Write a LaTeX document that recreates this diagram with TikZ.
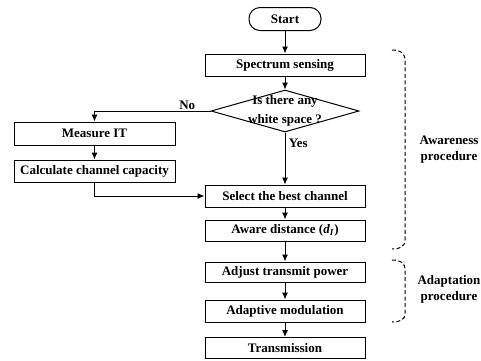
\documentclass[tikz,border=0pt]{standalone}
\usepackage{fontspec}
\setmainfont{Liberation Serif}
\usetikzlibrary{shapes.geometric,arrows.meta}
\tikzset{
  box/.style={draw, line width=1pt, minimum width=160pt, minimum height=22pt, inner sep=0pt, font=\bfseries\fontsize{13}{15}\selectfont},
  link/.style={line width=1pt, -{Latex[length=7pt,width=6pt]}},
  bracket/.style={line width=1pt, dash pattern=on 4pt off 2.5pt},
  tag/.style={align=center, font=\bfseries\fontsize{13}{16}\selectfont}
}
\begin{document}
\begin{tikzpicture}[x=1pt,y=-1pt]
    \useasboundingbox (0,0) rectangle (481,360);

    \node[box, rounded corners=11pt, minimum width=72pt, minimum height=23pt] (start) at (285,19) {Start};
    \node[box] (sense) at (285,65) {Spectrum sensing};
    \node[diamond, draw, line width=1pt, minimum width=148pt, minimum height=42pt, inner sep=0pt] (white) at (285,111) {};
    \node[tag, font=\bfseries\fontsize{13}{19}\selectfont] (whitetxt) at (white.center) {Is there any\\white space ?};
    \node[box, minimum width=161pt, minimum height=23pt] (measure) at (94.5,133.5) {Measure IT};
    \node[box, minimum width=161pt] (calc) at (94.5,171) {Calculate channel capacity};
    \node[box] (select) at (285,196) {Select the best channel};
    \node[box, minimum height=21pt] (aware) at (285,230.5) {Aware distance (\textit{d}\textsubscript{\textit{I}})};
    \node[box, minimum height=20pt] (adjust) at (285,272) {Adjust transmit power};
    \node[box] (adapt) at (285,311) {Adaptive modulation};
    \node[box, minimum height=21pt] (trans) at (285,348) {Transmission};

    \draw[link] (start) -- (sense);
    \draw[link] (sense) -- (white);
    \draw[link] (white.west) -| node[pos=0.1, above, tag, inner sep=1pt] {No} (measure.north);
    \draw[link] (white.south) -- node[pos=0.2, right, tag] {Yes} (select.north);
    \draw[link] (measure) -- (calc);
    \draw[link] (calc.south) |- (select.west);
    \draw[link] (select) -- (aware);
    \draw[link] (aware) -- (adjust);
    \draw[link] (adjust) -- (adapt);
    \draw[link] (adapt) -- (trans);

    \draw[bracket] (392,50) .. controls (401,50) and (405,53) .. (405,61) -- (405,240) .. controls (405,246) and (401,249) .. (392,249);
    \draw[bracket] (392,260) .. controls (401,260) and (405,263) .. (405,270) -- (405,314) .. controls (405,319) and (401,322) .. (392,322);
    \node[tag] (aware-lbl) at (449,150) {Awareness\\procedure};
    \node[tag] (adapt-lbl) at (449,289) {Adaptation\\procedure};
\end{tikzpicture}
\end{document}
